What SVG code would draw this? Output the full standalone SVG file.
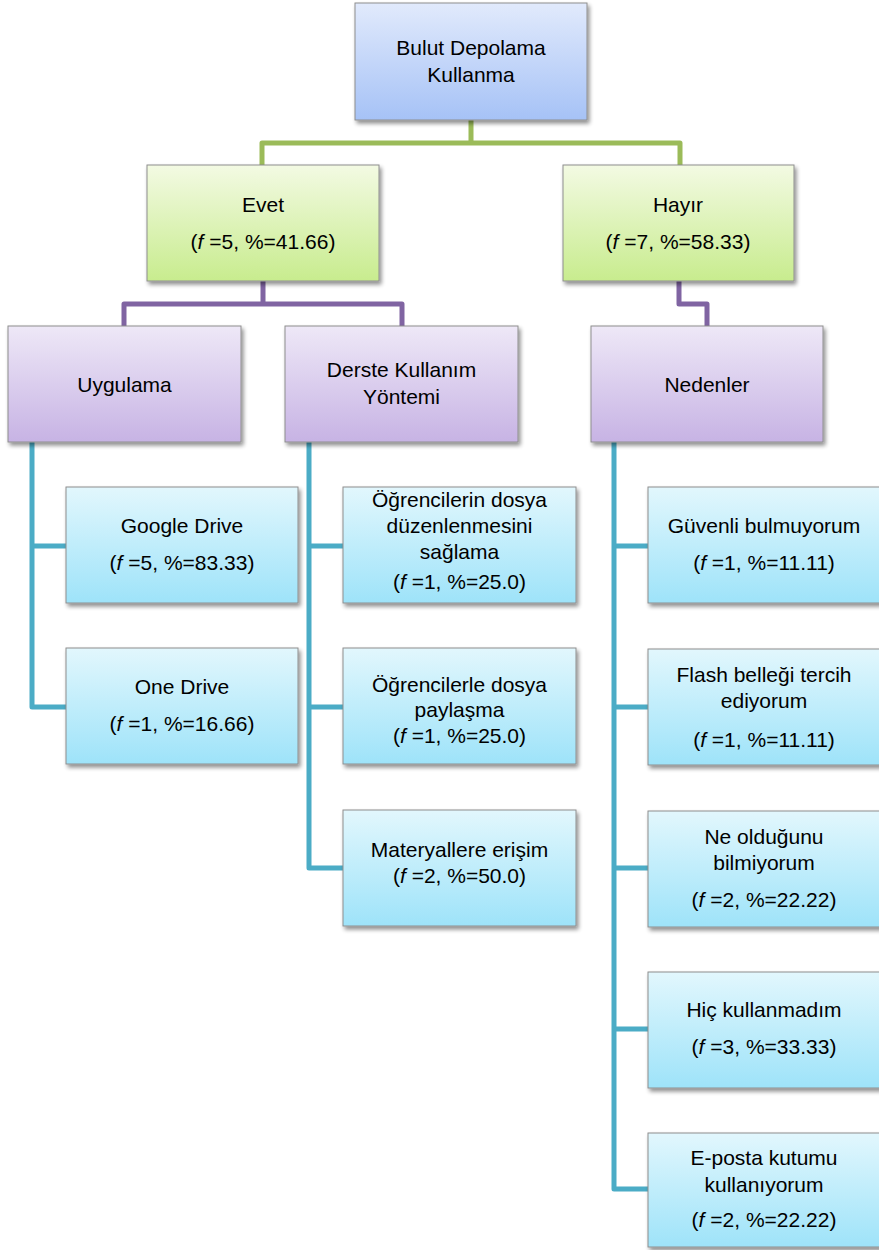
<svg xmlns="http://www.w3.org/2000/svg" width="879" height="1250" viewBox="0 0 879 1250">
  <defs>
    <linearGradient id="gBlue" x1="0" y1="0" x2="0" y2="1">
      <stop offset="0" stop-color="#e1eafc"/>
      <stop offset="1" stop-color="#a6c2f6"/>
    </linearGradient>
    <linearGradient id="gGreen" x1="0" y1="0" x2="0" y2="1">
      <stop offset="0" stop-color="#f3fae3"/>
      <stop offset="1" stop-color="#c8ec8e"/>
    </linearGradient>
    <linearGradient id="gPurple" x1="0" y1="0" x2="0" y2="1">
      <stop offset="0" stop-color="#eee8f7"/>
      <stop offset="1" stop-color="#c7b3e4"/>
    </linearGradient>
    <linearGradient id="gCyan" x1="0" y1="0" x2="0" y2="1">
      <stop offset="0" stop-color="#e2f7fd"/>
      <stop offset="1" stop-color="#9ee3f9"/>
    </linearGradient>
    <filter id="shadow" x="-10%" y="-10%" width="125%" height="130%">
      <feGaussianBlur in="SourceAlpha" stdDeviation="2"/>
      <feOffset dx="1.5" dy="3" result="b"/>
      <feComponentTransfer><feFuncA type="linear" slope="0.45"/></feComponentTransfer>
      <feMerge><feMergeNode/><feMergeNode in="SourceGraphic"/></feMerge>
    </filter>
  </defs>
  <style>
    .box { stroke: #8e8e8e; stroke-width: 1; filter: url(#shadow); }
    .blue { fill: url(#gBlue); }
    .green { fill: url(#gGreen); }
    .purple { fill: url(#gPurple); }
    .cyan { fill: url(#gCyan); }
    text { font-family: "Liberation Sans", Arial, sans-serif; font-size: 21px; fill: #000; text-anchor: middle; }
    .i { font-style: italic; }
    .conn { fill: none; stroke-width: 5; stroke-linejoin: round; stroke-linecap: butt; }
    .c-green { stroke: #9bbb59; }
    .c-purple { stroke: #8064a2; }
    .c-cyan { stroke: #4bacc6; }
  </style>

  <rect width="879" height="1250" fill="#ffffff"/>

  <!-- connectors -->
  <g id="connectors">
    <path class="conn c-green" d="M471,120 V143 H262 V165 M471,143 H680 V165"/>
    <path class="conn c-purple" d="M263,281 V304 H124 V326 M263,304 H402 V326"/>
    <path class="conn c-purple" d="M679,281 V304 H707 V326"/>
    <path class="conn c-cyan" d="M32,442 V707 H66 M32,546 H66"/>
    <path class="conn c-cyan" d="M309,442 V868 H343 M309,546 H343 M309,707 H343"/>
    <path class="conn c-cyan" d="M614,442 V1189 H648 M614,546 H648 M614,707 H648 M614,868 H648 M614,1029 H648"/>
  </g>

  <!-- root -->
  <g id="root">
    <rect class="box blue" x="355" y="3" width="232" height="117"/>
    <text x="471" y="55">Bulut Depolama</text>
    <text x="471" y="82">Kullanma</text>
  </g>

  <!-- level 1 -->
  <g id="evet">
    <rect class="box green" x="147" y="165" width="232" height="116"/>
    <text x="263" y="212">Evet</text>
    <text x="263" y="249">(<tspan class="i">f</tspan> =5, %=41.66)</text>
  </g>
  <g id="hayir">
    <rect class="box green" x="563" y="165" width="231" height="116"/>
    <text x="678" y="212">Hayır</text>
    <text x="678" y="249">(<tspan class="i">f</tspan> =7, %=58.33)</text>
  </g>

  <!-- level 2 -->
  <g id="uygulama">
    <rect class="box purple" x="8" y="326" width="233" height="116"/>
    <text x="124.5" y="392">Uygulama</text>
  </g>
  <g id="derste">
    <rect class="box purple" x="285" y="326" width="233" height="116"/>
    <text x="401.5" y="377">Derste Kullanım</text>
    <text x="401.5" y="404">Yöntemi</text>
  </g>
  <g id="nedenler">
    <rect class="box purple" x="591" y="326" width="232" height="116"/>
    <text x="707" y="392">Nedenler</text>
  </g>

  <!-- Uygulama children -->
  <g id="google-drive">
    <rect class="box cyan" x="66" y="487" width="232" height="116"/>
    <text x="182" y="533">Google Drive</text>
    <text x="182" y="570">(<tspan class="i">f</tspan> =5, %=83.33)</text>
  </g>
  <g id="one-drive">
    <rect class="box cyan" x="66" y="648" width="232" height="116"/>
    <text x="182" y="694">One Drive</text>
    <text x="182" y="731">(<tspan class="i">f</tspan> =1, %=16.66)</text>
  </g>

  <!-- Derste children -->
  <g id="duzenleme">
    <rect class="box cyan" x="343" y="487" width="233" height="116"/>
    <text x="459.5" y="507">Öğrencilerin dosya</text>
    <text x="459.5" y="533">düzenlenmesini</text>
    <text x="459.5" y="559">sağlama</text>
    <text x="459.5" y="589">(<tspan class="i">f</tspan> =1, %=25.0)</text>
  </g>
  <g id="paylasma">
    <rect class="box cyan" x="343" y="648" width="233" height="116"/>
    <text x="459.5" y="692">Öğrencilerle dosya</text>
    <text x="459.5" y="717">paylaşma</text>
    <text x="459.5" y="743">(<tspan class="i">f</tspan> =1, %=25.0)</text>
  </g>
  <g id="materyal">
    <rect class="box cyan" x="343" y="810" width="233" height="116"/>
    <text x="459.5" y="857">Materyallere erişim</text>
    <text x="459.5" y="883">(<tspan class="i">f</tspan> =2, %=50.0)</text>
  </g>

  <!-- Nedenler children -->
  <g id="guvenli">
    <rect class="box cyan" x="648" y="487" width="233" height="116"/>
    <text x="764" y="533">Güvenli bulmuyorum</text>
    <text x="764" y="570">(<tspan class="i">f</tspan> =1, %=11.11)</text>
  </g>
  <g id="flash">
    <rect class="box cyan" x="648" y="649" width="233" height="116"/>
    <text x="764" y="682">Flash belleği tercih</text>
    <text x="764" y="708">ediyorum</text>
    <text x="764" y="747">(<tspan class="i">f</tspan> =1, %=11.11)</text>
  </g>
  <g id="ne-oldugu">
    <rect class="box cyan" x="648" y="811" width="233" height="116"/>
    <text x="764" y="844">Ne olduğunu</text>
    <text x="764" y="870">bilmiyorum</text>
    <text x="764" y="907">(<tspan class="i">f</tspan> =2, %=22.22)</text>
  </g>
  <g id="hic">
    <rect class="box cyan" x="648" y="972" width="233" height="116"/>
    <text x="764" y="1017">Hiç kullanmadım</text>
    <text x="764" y="1054">(<tspan class="i">f</tspan> =3, %=33.33)</text>
  </g>
  <g id="eposta">
    <rect class="box cyan" x="648" y="1133" width="233" height="114"/>
    <text x="764" y="1165">E-posta kutumu</text>
    <text x="764" y="1192">kullanıyorum</text>
    <text x="764" y="1227">(<tspan class="i">f</tspan> =2, %=22.22)</text>
  </g>
</svg>
